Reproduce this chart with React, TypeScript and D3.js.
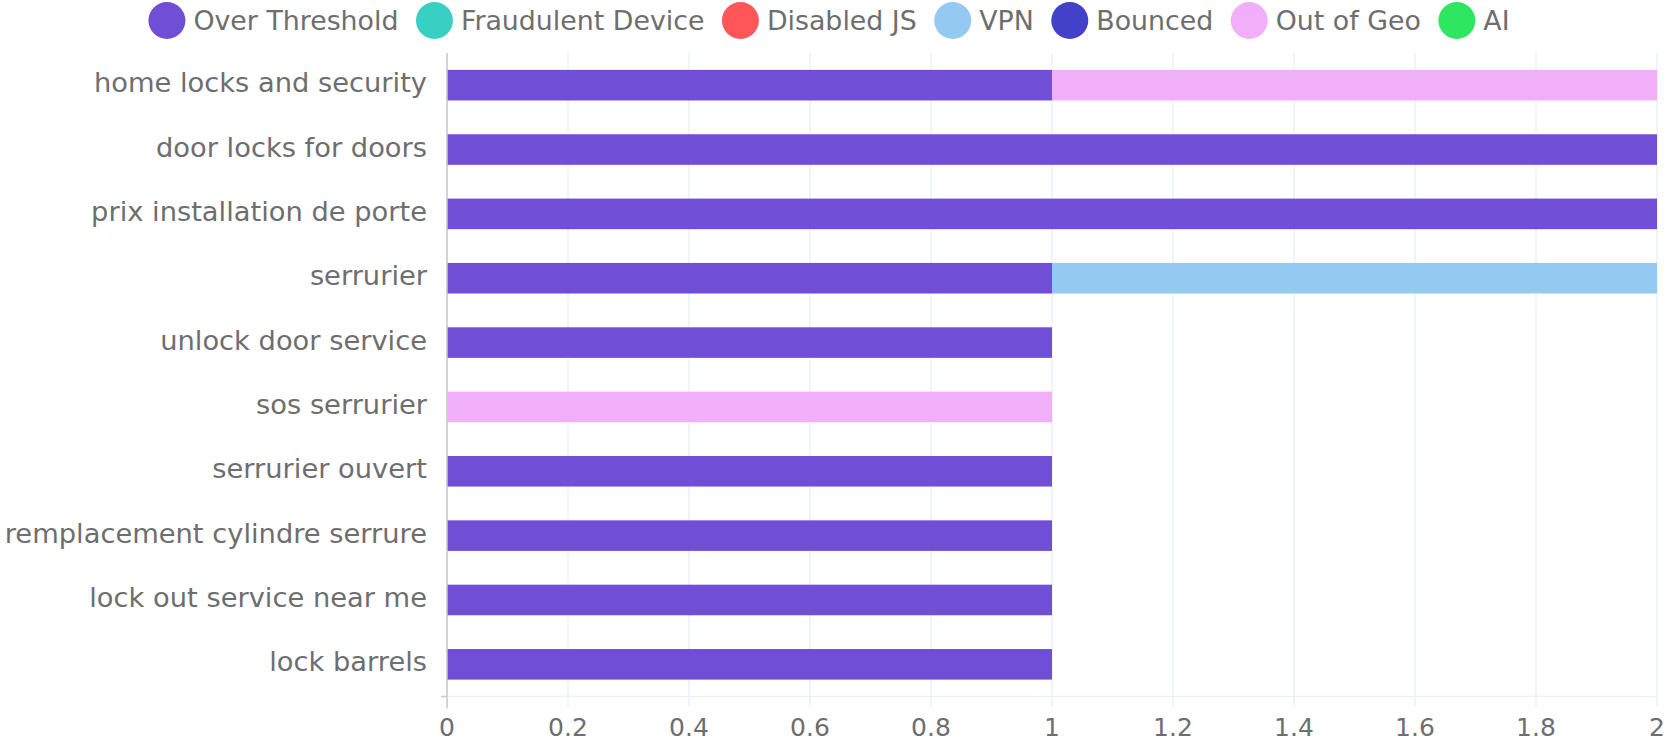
import * as d3 from 'd3'
import { useMemo } from 'react'

const categories = [
  'home locks and security',
  'door locks for doors',
  'prix installation de porte',
  'serrurier',
  'unlock door service',
  'sos serrurier',
  'serrurier ouvert',
  'remplacement cylindre serrure',
  'lock out service near me',
  'lock barrels',
]

const seriesNames = ['Over Threshold', 'Fraudulent Device', 'Disabled JS', 'VPN', 'Bounced', 'Out of Geo', 'AI']
const seriesColors = ['#714ed6', '#38d0c3', '#ff5757', '#94c9f2', '#4341c9', '#f1affa', '#2ee65f']

const overThreshold = [1, 2, 2, 1, 1, 0, 1, 1, 1, 1]
const fraudulentDevice = [0, 0, 0, 0, 0, 0, 0, 0, 0, 0]
const disabledJS = [0, 0, 0, 0, 0, 0, 0, 0, 0, 0]
const vpn = [0, 0, 0, 1, 0, 0, 0, 0, 0, 0]
const bounced = [0, 0, 0, 0, 0, 0, 0, 0, 0, 0]
const outOfGeo = [1, 0, 0, 0, 0, 1, 0, 0, 0, 0]
const ai = [0, 0, 0, 0, 0, 0, 0, 0, 0, 0]

const xTicks = [0, 0.2, 0.4, 0.6, 0.8, 1, 1.2, 1.4, 1.6, 1.8, 2]

const width = 1667
const height = 743
const margin = { top: 53, right: 10, bottom: 46.5, left: 447 }
const fontFamily = '"DejaVu Sans", sans-serif'
const textColor = '#6e6e6e'
const gridColor = '#edf1f6'
const legendFont = 26.8

function measure(text: string, size: number) {
  const ctx = document.createElement('canvas').getContext('2d')
  if (!ctx) return text.length * size * 0.6
  ctx.font = `${size}px "DejaVu Sans"`
  return ctx.measureText(text).width
}

export default function App() {
  const seriesValues = [overThreshold, fraudulentDevice, disabledJS, vpn, bounced, outOfGeo, ai]

  const rows = categories.map((cat, i) => {
    const row: Record<string, number | string> = { category: cat }
    seriesNames.forEach((name, s) => {
      row[name] = seriesValues[s][i]
    })
    return row
  })

  const stacked = d3.stack<Record<string, number | string>>().keys(seriesNames)(rows as any)

  const x = d3.scaleLinear().domain([0, 2]).range([margin.left, width - margin.right])
  const y = d3
    .scaleBand<string>()
    .domain(categories)
    .range([margin.top, height - margin.bottom])
    .paddingInner(0.525)
    .paddingOuter(0.2625)

  const plotBottom = height - margin.bottom

  // legend laid out from measured text widths, centred over the chart
  const legendItems = useMemo(() => {
    const markerD = 37
    const gapMarker = 8
    const gapItem = 17.5
    const widths = seriesNames.map((n) => measure(n, legendFont))
    const total = widths.reduce((a, w) => a + markerD + gapMarker + w, 0) + gapItem * (seriesNames.length - 1)
    let cursor = 829 - total / 2
    return seriesNames.map((name, i) => {
      const item = { name, color: seriesColors[i], cx: cursor + markerD / 2, tx: cursor + markerD + gapMarker }
      cursor += markerD + gapMarker + widths[i] + gapItem
      return item
    })
  }, [])

  return (
    <svg
      width={width}
      height={height}
      style={{ position: 'absolute', left: 0, top: 0, background: '#fff' }}
      fontFamily={fontFamily}
    >
      {legendItems.map((item) => (
        <g key={item.name}>
          <circle cx={item.cx} cy={20.5} r={18.5} fill={item.color} />
          <text x={item.tx} y={29.5} fontSize={legendFont} fill={textColor}>
            {item.name}
          </text>
        </g>
      ))}

      {xTicks.map((t) => (
        <line
          key={`g-${t}`}
          x1={x(t)}
          x2={x(t)}
          y1={margin.top}
          y2={plotBottom + 10}
          stroke={gridColor}
          strokeWidth={1.5}
        />
      ))}
      <line x1={margin.left} x2={width - margin.right} y1={plotBottom} y2={plotBottom} stroke={gridColor} strokeWidth={1.5} />

      {stacked.map((layer, s) =>
        layer.map((d, i) =>
          d[1] - d[0] > 0 ? (
            <rect
              key={`${s}-${i}`}
              x={x(d[0])}
              y={y(categories[i])}
              width={x(d[1]) - x(d[0])}
              height={y.bandwidth()}
              fill={seriesColors[s]}
            />
          ) : null,
        ),
      )}

      <line x1={margin.left} x2={margin.left} y1={margin.top} y2={plotBottom + 12} stroke="#c9c9c9" strokeWidth={1.5} />
      <line x1={margin.left - 6} x2={margin.left} y1={plotBottom} y2={plotBottom} stroke="#c9c9c9" strokeWidth={1.5} />

      {categories.map((cat) => (
        <text
          key={cat}
          x={427}
          y={(y(cat) ?? 0) + y.bandwidth() / 2 + 7}
          textAnchor="end"
          fontSize={27.3}
          fill={textColor}
        >
          {cat}
        </text>
      ))}

      {xTicks.map((t) => (
        <text key={`t-${t}`} x={x(t)} y={736} textAnchor="middle" fontSize={25} fill={textColor}>
          {d3.format('~g')(t)}
        </text>
      ))}
    </svg>
  )
}
